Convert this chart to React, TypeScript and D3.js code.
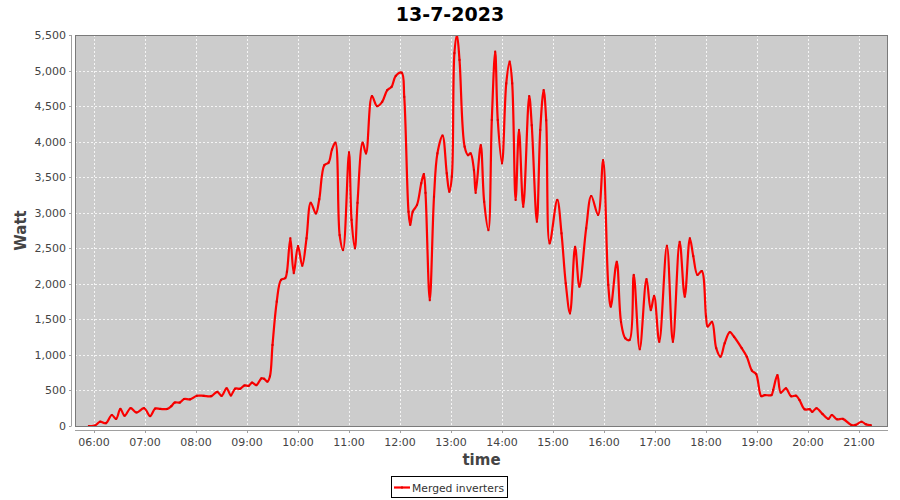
import React from "react";
import * as d3 from "d3";

const times: string[] = [
  "05:54","06:01","06:07","06:14","06:21","06:26","06:31","06:36","06:43","06:50","06:59","07:06","07:12","07:18","07:26","07:31","07:35","07:41","07:46","07:53",
  "08:01","08:09","08:18","08:25","08:30","08:36","08:41","08:46","08:52","08:57","09:02","09:06","09:11","09:17","09:20","09:24","09:27","09:30","09:35","09:40",
  "09:45","09:47","09:51","09:55","10:00","10:05","10:10","10:15","10:21","10:25","10:31","10:36","10:40","10:44","10:49","10:53","11:00","11:03","11:07","11:10",
  "11:16","11:20","11:27","11:33","11:39","11:45","11:50","11:55","12:02","12:05","12:10","12:12","12:15","12:20","12:25","12:28","12:30","12:35","12:40","12:44",
  "12:50","12:55","12:58","13:01","13:04","13:07","13:10","13:16","13:20","13:23","13:27","13:29","13:35","13:39","13:44","13:48","13:52","13:55","14:00","14:05",
  "14:09","14:12","14:16","14:20","14:25","14:32","14:35","14:41","14:45","14:49","14:52","14:56","15:05","15:10","15:15","15:20","15:26","15:31","15:39","15:45",
  "15:53","15:59","16:05","16:08","16:15","16:20","16:25","16:30","16:35","16:42","16:50","16:55","16:59","17:05","17:14","17:21","17:29","17:35","17:41","17:45",
  "17:50","17:55","18:00","18:02","18:07","18:12","18:17","18:22","18:28","18:33","18:42","18:48","18:54","18:59","19:05","19:09","19:17","19:19","19:24","19:28",
  "19:34","19:40","19:46","19:50","19:56","20:02","20:05","20:10","20:17","20:24","20:28","20:34","20:41","20:51","20:56","21:03","21:08","21:14"
];
const watts: number[] = [
  0,5,60,40,155,100,240,145,250,190,250,140,245,240,240,280,330,330,380,375,
  425,425,420,480,425,530,430,525,525,570,565,610,575,670,665,625,700,1140,1750,2055,
  2080,2170,2640,2150,2530,2255,2640,3140,2990,3190,3670,3705,3890,3985,2685,2475,3850,2900,2500,3140,
  3985,3835,4640,4500,4560,4725,4770,4925,4970,4630,3015,2830,3015,3110,3415,3545,3280,1770,3225,3835,
  4085,3555,3295,3510,5245,5500,5150,3930,3810,3835,3600,3280,3950,3155,2755,4305,5265,4305,3695,4820,
  5125,4820,3180,4165,3085,4640,4230,2875,4165,4725,4300,2570,3180,2710,2005,1585,2520,1960,2780,3235,
  2970,3740,1985,1680,2310,1465,1235,1210,2125,1080,2065,1630,1830,1185,2535,1185,2590,1820,2640,2390,
  2125,2180,1540,1400,1465,1095,975,1165,1320,1255,1095,975,780,730,420,435,435,505,715,470,
  530,420,425,365,235,235,200,250,170,100,155,95,100,15,15,60,25,10
];
const yTicks: number[] = [0,500,1000,1500,2000,2500,3000,3500,4000,4500,5000,5500];
const xTickLabels: string[] = ["06:00","07:00","08:00","09:00","10:00","11:00","12:00","13:00","14:00","15:00","16:00","17:00","18:00","19:00","20:00","21:00"];
const title = "13-7-2023";
const seriesName = "Merged inverters";
const xAxisLabel = "time";
const yAxisLabel = "Watt";

const W = 900, H = 500;
const L = 75, R = 888, T = 35, B = 426;
const FONT = "'DejaVu Sans', sans-serif";

export default function App() {
  const parse = d3.timeParse("%H:%M:%S");
  const parseHM = d3.timeParse("%H:%M");
  const data = times.map((t, i) => ({ t: parseHM(t) as Date, v: watts[i] }));
  const x = d3.scaleTime().domain([parse("05:37:38") as Date, parse("21:34:07") as Date]).range([L, R]);
  const y = d3.scaleLinear().domain([0, 5500]).range([B, T]);
  const line = d3.line<{ t: Date; v: number }>()
    .x(d => x(d.t)).y(d => y(d.v))
    .curve(d3.curveCatmullRom.alpha(0.5));
  const xTicks = xTickLabels.map(s => parseHM(s) as Date);
  const fmt = d3.format(",");
  return (
    <svg width={W} height={H} style={{ position: "absolute", left: 0, top: 0, background: "#fff" }} fontFamily={FONT}>
      <defs>
        <clipPath id="plotclip"><rect x={L} y={T} width={R - L} height={B - T} /></clipPath>
      </defs>
      <text x={450} y={21} textAnchor="middle" fontSize={19} fontWeight="bold" fill="#000">{title}</text>
      <rect x={L} y={T} width={R - L} height={B - T} fill="#cccccc" />
      {yTicks.map(v => (
        <line key={"gy" + v} x1={L} x2={R} y1={Math.round(y(v)) + 0.5} y2={Math.round(y(v)) + 0.5} stroke="#ffffff" strokeOpacity={0.8} strokeDasharray="2,2" />
      ))}
      {xTicks.map((d, i) => (
        <line key={"gx" + i} y1={T} y2={B} x1={Math.round(x(d)) + 0.5} x2={Math.round(x(d)) + 0.5} stroke="#ffffff" strokeOpacity={0.8} strokeDasharray="2,2" />
      ))}
      <g clipPath="url(#plotclip)">
        <path d={line(data) || ""} fill="none" stroke="#ff0000" strokeWidth={2.2} strokeLinejoin="round" />
        {data.map((d, i) => (
          <rect key={"p" + i} x={x(d.t) - 1} y={y(d.v) - 1} width={2} height={2} fill="#e00000" />
        ))}
      </g>
      <rect x={L + 0.5} y={T + 0.5} width={R - L - 1} height={B - T} fill="none" stroke="#7a7a7a" strokeWidth={1} />
      <line x1={71.5} x2={71.5} y1={T} y2={B} stroke="#a0a0a0" />
      {yTicks.map(v => (
        <g key={"ty" + v}>
          <line x1={69} x2={71.5} y1={Math.round(y(v)) + 0.5} y2={Math.round(y(v)) + 0.5} stroke="#a0a0a0" />
          <text x={66} y={y(v) + 4} textAnchor="end" fontSize={11} fill="#444">{fmt(v)}</text>
        </g>
      ))}
      <line x1={L} x2={R} y1={430.5} y2={430.5} stroke="#a0a0a0" />
      {xTicks.map((d, i) => (
        <g key={"tx" + i}>
          <line x1={Math.round(x(d)) + 0.5} x2={Math.round(x(d)) + 0.5} y1={430.5} y2={433} stroke="#a0a0a0" />
          <text x={x(d)} y={446} textAnchor="middle" fontSize={11} fill="#444">{xTickLabels[i]}</text>
        </g>
      ))}
      <text x={(L + R) / 2} y={465} textAnchor="middle" fontSize={15} fontWeight="bold" fill="#444">{xAxisLabel}</text>
      <text transform={`translate(26,${(T + B) / 2}) rotate(-90)`} textAnchor="middle" fontSize={15} fontWeight="bold" fill="#444">{yAxisLabel}</text>
      <rect x={391.5} y={476.5} width={116} height={21} fill="#fff" stroke="#000" />
      <line x1={394} x2={410} y1={487.5} y2={487.5} stroke="#ff0000" strokeWidth={2.2} />
      <rect x={401} y={486.5} width={2} height={2} fill="#e00000" />
      <text x={412} y={491.5} fontSize={11} fill="#333" textLength={92} lengthAdjust="spacingAndGlyphs">{seriesName}</text>
    </svg>
  );
}
